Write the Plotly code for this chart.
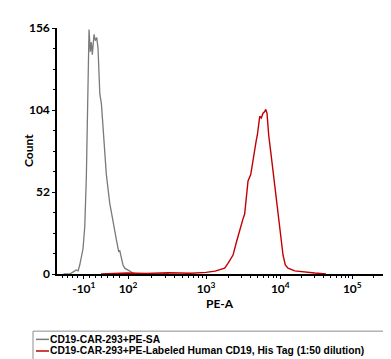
import plotly.graph_objects as go
import math

# ---- data (x in display decades of the biexponential PE-A axis, y = count) ----
series_names = ["CD19-CAR-293+PE-SA",
                "CD19-CAR-293+PE-Labeled Human CD19, His Tag (1:50 dilution)"]

gray_x = [1.10, 1.183, 1.235, 1.271, 1.295, 1.316, 1.36, 1.383, 1.404, 1.417, 1.427, 1.44,
          1.457, 1.471, 1.484, 1.507, 1.524, 1.543, 1.56, 1.584, 1.605, 1.627,
          1.649, 1.671, 1.716, 1.76, 1.804, 1.836, 1.85, 1.863, 1.893, 1.916,
          1.983, 2.049, 2.20, 2.50]
gray_y = [0, 0, 1.5, 2.6, 2.0, 5.7, 16, 30, 61, 102, 133, 155,
          141, 147, 139, 152, 148, 150, 143, 114, 108, 92,
          77, 63, 45, 32, 22, 14, 15, 12, 5.7, 3.7,
          1.8, 0, 0.3, 0]

red_x = [1.60, 1.95, 2.20, 2.50, 2.80, 3.00, 3.12, 3.249, 3.293, 3.36, 3.404, 3.449,
         3.471, 3.49, 3.515, 3.537, 3.56, 3.596, 3.627, 3.671, 3.684, 3.703, 3.716,
         3.737, 3.76, 3.783, 3.796, 3.813, 3.836, 3.863, 3.893, 3.924, 3.96,
         3.996, 4.027, 4.057, 4.093, 4.183, 4.316, 4.449, 4.60]
red_y = [0, 0.6, 0.4, 0.8, 0.5, 1.0, 1.8, 3.7, 6.8, 12, 20, 28,
         32.6, 34.5, 38, 46.7, 59, 63, 73, 85, 88, 98, 100,
         99, 102, 103, 104.4, 102, 87.8, 77.4, 65, 52.8, 36.4,
         22, 11.9, 5.7, 3.7, 2.0, 1.2, 0.6, 0]

x_tick_pos = [1.37, 1.96, 3.00, 3.99, 4.95]
x_tick_text = ["-10<sup>1</sup>", "10<sup>2</sup>", "10<sup>3</sup>",
               "10<sup>4</sup>", "10<sup>5</sup>"]
y_tick_vals = [0, 52, 104, 156]
x_title = "PE-A"
y_title = "Count"

colors = ["#7a7a7a", "#c00000"]

# ---- layout geometry (pixels) ----
W, H = 391, 359
L, R, T, B = 49, 15, 12, 93
pw, ph = W - L - R, H - T - B

def px(x):
    return (x - L) / pw

def py(y):
    return (H - B - y) / ph

# minor ticks
x_minor = []
for a, b in zip(x_tick_pos[1:], x_tick_pos[2:] + [x_tick_pos[-1] + 0.96]):
    for k in range(2, 10):
        x_minor.append(a + math.log10(k) * (b - a))
x_minor += [1.08, 1.15, 1.22, 1.29, 1.45, 1.53, 1.61, 1.69, 1.77, 1.85]
y_minor = [v for v in range(0, 157, 13) if v not in y_tick_vals]

fig = go.Figure()
fig.add_trace(go.Scatter(x=gray_x, y=gray_y, mode="lines", name=series_names[0],
                         line=dict(color=colors[0], width=1.3), showlegend=False))
fig.add_trace(go.Scatter(x=red_x, y=red_y, mode="lines", name=series_names[1],
                         line=dict(color=colors[1], width=1.4), showlegend=False))

font_family = "Lato, 'Liberation Sans', sans-serif"
legend_family = "'Liberation Sans', Arial, sans-serif"

fig.update_layout(
    width=W, height=H,
    margin=dict(l=L, r=R, t=T, b=B),
    plot_bgcolor="white", paper_bgcolor="white",
    font=dict(family=font_family, color="black", size=12, weight="bold"),
    xaxis=dict(range=[1.013, 5.373], showgrid=False, zeroline=False,
               showline=True, linecolor="black", linewidth=1.5,
               ticks="outside", ticklen=3, tickwidth=1, tickcolor="black",
               tickvals=x_tick_pos, ticktext=x_tick_text,
               tickfont=dict(size=12, family=font_family, weight="bold"),
               minor=dict(tickvals=x_minor, ticks="outside", ticklen=2,
                          tickcolor="black", tickwidth=1)),
    yaxis=dict(range=[0, 156], showgrid=False, zeroline=False,
               showline=True, linecolor="black", linewidth=1.5,
               ticks="outside", ticklen=3, tickwidth=1, tickcolor="black",
               tickvals=y_tick_vals,
               tickfont=dict(size=12, family=font_family, weight="bold"),
               minor=dict(tickvals=y_minor, ticks="outside", ticklen=2,
                          tickcolor="black", tickwidth=1)),
)

# axis titles
fig.add_annotation(xref="paper", yref="paper", x=px(212), y=py(296),
                   xanchor="center", yanchor="middle", showarrow=False,
                   text=x_title, font=dict(size=12, family=font_family, weight="bold"))
fig.add_annotation(xref="paper", yref="paper", x=px(20), y=py(139),
                   xanchor="center", yanchor="middle", showarrow=False, textangle=-90,
                   text=y_title, font=dict(size=12, family=font_family, weight="bold"))

# manual legend
fig.add_shape(type="rect", xref="paper", yref="paper",
              x0=px(25), x1=px(388), y0=py(357), y1=py(325),
              line=dict(color="#8c8c8c", width=1), fillcolor="white")
for i, (name, c) in enumerate(zip(series_names, colors)):
    yy = 333.5 + 12 * i
    fig.add_shape(type="line", xref="paper", yref="paper",
                  x0=px(28), x1=px(41), y0=py(yy), y1=py(yy),
                  line=dict(color=c, width=1.5))
    fig.add_annotation(xref="paper", yref="paper", x=px(41), y=py(yy),
                       xanchor="left", yanchor="middle", showarrow=False,
                       borderpad=0,
                       text=name, font=dict(size=10.3, family=legend_family,
                                            weight="bold", color="black"))

fig.write_html("out.html")
